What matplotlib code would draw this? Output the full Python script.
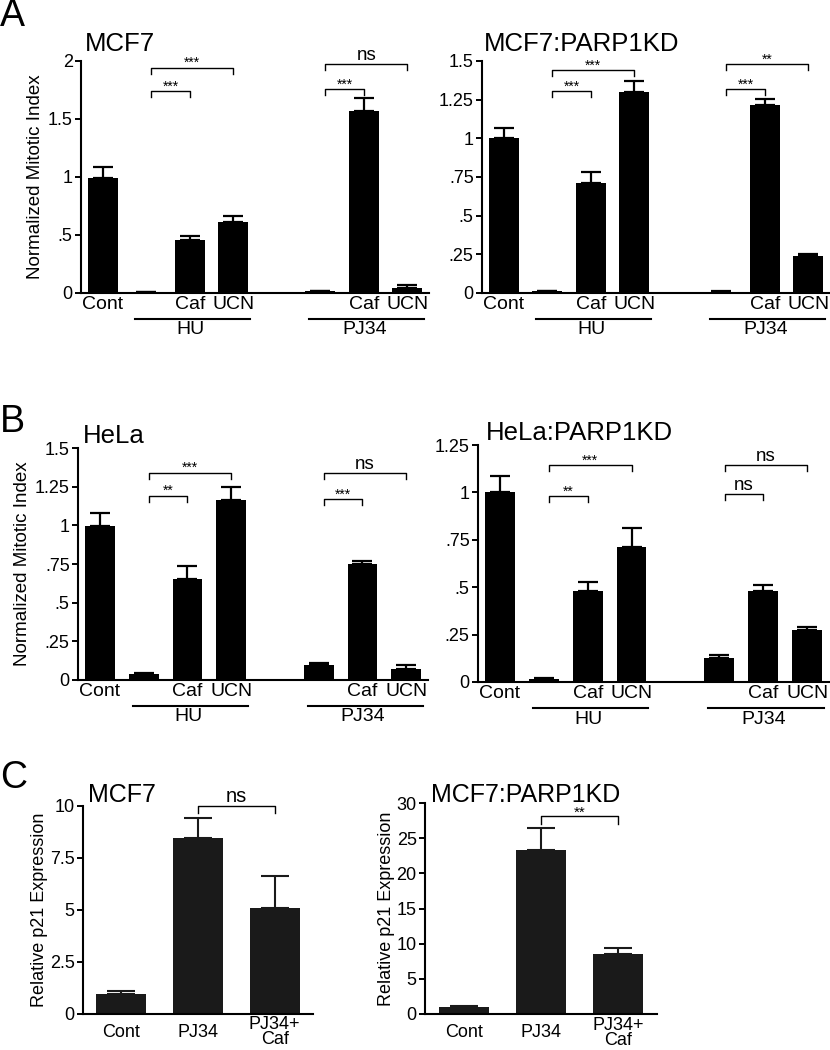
import matplotlib
matplotlib.use('Agg')
import matplotlib.pyplot as plt

plt.rcParams['font.family'] = ['Liberation Sans', 'DejaVu Sans']

# bar order in panels A and B: Cont, HU, HU+Caf, HU+UCN, PJ34, PJ34+Caf, PJ34+UCN
positions = [0, 1, 2, 3, 5, 6, 7]
tick_names = ['Cont', '', 'Caf', 'UCN', '', 'Caf', 'UCN']

mcf7_mean = [0.99, 0.005, 0.46, 0.613, 0.017, 1.571, 0.046]
mcf7_err = [0.10, 0.0, 0.035, 0.055, 0.004, 0.107, 0.02]
mcf7kd_mean = [1.0, 0.013, 0.714, 1.297, 0.008, 1.217, 0.237]
mcf7kd_err = [0.064, 0.002, 0.069, 0.076, 0.002, 0.037, 0.018]
hela_mean = [0.993, 0.037, 0.652, 1.166, 0.097, 0.751, 0.071]
hela_err = [0.086, 0.01, 0.086, 0.084, 0.011, 0.017, 0.026]
helakd_mean = [1.0, 0.014, 0.481, 0.711, 0.125, 0.479, 0.275]
helakd_err = [0.086, 0.005, 0.044, 0.102, 0.016, 0.03, 0.014]

# significance brackets: (bar i, bar j, height, label)
mcf7_sig = [(1, 2, 1.74, '***'), (1, 3, 1.94, '***'), (4, 5, 1.755, '***'), (4, 6, 1.97, 'ns')]
mcf7kd_sig = [(1, 2, 1.306, '***'), (1, 3, 1.44, '***'), (4, 5, 1.317, '***'), (4, 6, 1.479, '**')]
hela_sig = [(1, 2, 1.19, '**'), (1, 3, 1.34, '***'), (4, 5, 1.17, '***'), (4, 6, 1.336, 'ns')]
helakd_sig = [(1, 2, 0.979, '**'), (1, 3, 1.144, '***'), (4, 5, 0.993, 'ns'), (4, 6, 1.146, 'ns')]

# panel C: qPCR of p21
c_names = ['Cont', 'PJ34', 'PJ34+\nCaf']
p21_mcf7 = [0.96, 8.45, 5.12]
p21_mcf7_err = [0.13, 0.96, 1.5]
p21_mcf7kd = [0.95, 23.35, 8.54]
p21_mcf7kd_err = [0.24, 3.05, 0.86]
c_mcf7_sig = [(1, 2, 10.0, 'ns')]
c_mcf7kd_sig = [(1, 2, 28.1, '**')]

fig = plt.figure(figsize=(8.3, 10.5), dpi=100)
W, H = 830.0, 1050.0


def px_axes(x0, y0, x1, y1):
    return fig.add_axes([x0 / W, 1 - y1 / H, (x1 - x0) / W, (y1 - y0) / H])


def style(ax):
    for s in ['top', 'right']:
        ax.spines[s].set_visible(False)
    for s in ['left', 'bottom']:
        ax.spines[s].set_linewidth(1.5)
    ax.tick_params(axis='y', length=4, width=1.4, direction='out', pad=2)
    ax.tick_params(axis='x', length=0)


def brackets(ax, xs, sig, drop, fs_star=10, fs_ns=13.5, dx=(0.12, 0.0)):
    for i, j, h, lab in sig:
        x1 = xs[i] + dx[0]
        x2 = xs[j] + dx[1]
        ax.plot([x1, x1, x2, x2], [h - drop, h, h, h - drop], color='black',
                lw=1.0, clip_on=False)
        fs = fs_ns if lab == 'ns' else fs_star
        off = 0.0 if lab == 'ns' else -drop * 0.4
        ax.text((x1 + x2) / 2, h + off, lab, ha='center', va='bottom',
                fontsize=fs, clip_on=False)


def mitotic_panel(box, mean, err, sig, ymax, yticks, ylabels, title, tpos, ylabel):
    ax = px_axes(*box)
    ax.bar(positions, mean, width=0.68, color='black')
    ax.errorbar(positions, mean, yerr=[[0] * len(err), err], fmt='none',
                ecolor='black', elinewidth=1.6, capsize=7, capthick=1.6)
    ax.set_xlim(-0.5, 7.5)
    ax.set_ylim(0, ymax)
    ax.set_yticks(yticks)
    ax.set_yticklabels(ylabels, fontsize=13)
    ax.set_xticks(positions)
    ax.set_xticklabels(tick_names, fontsize=14)
    ax.tick_params(axis='x', pad=2)
    style(ax)
    if ylabel:
        ax.set_ylabel(ylabel, fontsize=13.5, labelpad=3)
    brackets(ax, positions, sig, ymax * 0.025)
    # group lines under the treatments
    for lo, hi, name in [(1, 3, 'HU'), (4, 6, 'PJ34')]:
        x1 = positions[lo] - 0.25
        x2 = positions[hi] + 0.38
        ax.plot([x1, x2], [-0.11, -0.11], color='black', lw=1.5, clip_on=False,
                transform=ax.get_xaxis_transform())
        ax.text((x1 + x2) / 2 - 0.05, -0.158, name, ha='center', va='center',
                fontsize=14, transform=ax.get_xaxis_transform())
    fig.text(tpos[0] / W, 1 - tpos[1] / H, title, fontsize=18.5, va='baseline')
    return ax


mitotic_panel((81, 61, 429, 293), mcf7_mean, mcf7_err, mcf7_sig, 2,
              [0, 0.5, 1, 1.5, 2], ['0', '.5', '1', '1.5', '2'],
              'MCF7', (85, 51), 'Normalized Mitotic Index')
mitotic_panel((482, 61, 830, 293), mcf7kd_mean, mcf7kd_err, mcf7kd_sig, 1.5,
              [0, 0.25, 0.5, 0.75, 1, 1.25, 1.5],
              ['0', '.25', '.5', '.75', '1', '1.25', '1.5'],
              'MCF7:PARP1KD', (484, 51), None)
mitotic_panel((78, 448, 428, 680), hela_mean, hela_err, hela_sig, 1.5,
              [0, 0.25, 0.5, 0.75, 1, 1.25, 1.5],
              ['0', '.25', '.5', '.75', '1', '1.25', '1.5'],
              'HeLa', (83, 443), 'Normalized Mitotic Index')
mitotic_panel((478, 445, 829, 682), helakd_mean, helakd_err, helakd_sig, 1.25,
              [0, 0.25, 0.5, 0.75, 1, 1.25],
              ['0', '.25', '.5', '.75', '1', '1.25'],
              'HeLa:PARP1KD', (486, 440), None)


def p21_panel(box, mean, err, sig, ymax, yticks, ylabels, title, tpos):
    ax = px_axes(*box)
    xs = list(range(len(mean)))
    ax.bar(xs, mean, width=0.65, color='#1a1a1a')
    ax.errorbar(xs, mean, yerr=[[0] * len(err), err], fmt='none',
                ecolor='#1a1a1a', elinewidth=1.5, capsize=10, capthick=1.5)
    ax.set_xlim(-0.5, 2.5)
    ax.set_ylim(0, ymax)
    ax.set_yticks(yticks)
    ax.set_yticklabels(ylabels, fontsize=13)
    ax.set_xticks(xs)
    ax.set_xticklabels([''] * len(xs))
    # category names centred vertically below the axis
    for x, name in zip(xs, c_names):
        ax.text(x, -0.088, name, ha='center', va='center', fontsize=13,
                linespacing=0.85, transform=ax.get_xaxis_transform())
    style(ax)
    ax.set_ylabel('Relative p21 Expression', fontsize=13, labelpad=1)
    brackets(ax, xs, sig, ymax * 0.035, fs_star=11, fs_ns=14.5, dx=(0.0, 0.0))
    fig.text(tpos[0] / W, 1 - tpos[1] / H, title, fontsize=18, va='baseline')
    return ax


p21_panel((83, 806, 313, 1014), p21_mcf7, p21_mcf7_err, c_mcf7_sig, 10,
          [0, 2.5, 5, 7.5, 10], ['0', '2.5', '5', '7.5', '10'], 'MCF7', (88, 802))
p21_panel((425, 803, 657, 1014), p21_mcf7kd, p21_mcf7kd_err, c_mcf7kd_sig, 30,
          [0, 5, 10, 15, 20, 25, 30], ['0', '5', '10', '15', '20', '25', '30'],
          'MCF7:PARP1KD', (431, 802))

# panel letters
for letter, ytop in [('A', -2), ('B', 404), ('C', 760)]:
    fig.text(0.0, 1 - ytop / H, letter, fontsize=27, va='top', ha='left')

fig.savefig('out.png', dpi=100)
